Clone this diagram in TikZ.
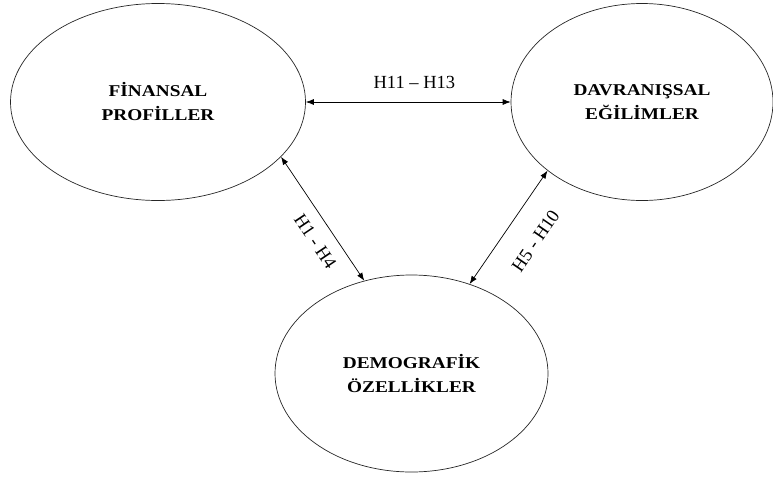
\documentclass[tikz,border=0pt]{standalone}
\usepackage{fontspec}
\usepackage{graphicx}
\setmainfont{Liberation Serif}
\usetikzlibrary{shapes.geometric,arrows.meta}
\begin{document}
\begin{tikzpicture}[x=1pt,y=-1pt,
  ell/.style={draw=black!85, ellipse, inner sep=0pt, line width=0.7pt,
    font=\fontsize{16.5}{24}\selectfont\bfseries, align=center},
  conn/.style={{Latex[length=8pt,width=6pt]}-{Latex[length=8pt,width=6pt]}, line width=0.7pt},
  hyp/.style={font=\fontsize{18.5}{22}\selectfont}]
\useasboundingbox (0,0) rectangle (773,477);
\node[ell, minimum width=295pt, minimum height=197pt] (F) at (158,102)
  {\scalebox{1.17}[1]{FİNANSAL}\\\scalebox{1.17}[1]{PROFİLLER}};
\node[ell, minimum width=262pt, minimum height=197pt] (D) at (642,102)
  {\scalebox{1.17}[1]{DAVRANIŞSAL}\\\scalebox{1.17}[1]{EĞİLİMLER}};
\node[ell, minimum width=273pt, minimum height=197pt] (B) at (411.5,373.5)
  {\scalebox{1.17}[1]{DEMOGRAFİK}\\\scalebox{1.17}[1]{ÖZELLİKLER}};
\draw[conn] (F.east) -- node[hyp, pos=0.53, above=9.5pt] {H11 – H13} (D.west);
\draw[conn] (F.-24.5) -- node[hyp, sloped, pos=0.6, below=9pt] {H1 - H4} (B.117.4);
\draw[conn] (B.57.2) -- node[hyp, sloped, pos=0.53, below=20pt] {H5 - H10} (D.216.8);
\end{tikzpicture}
\end{document}
